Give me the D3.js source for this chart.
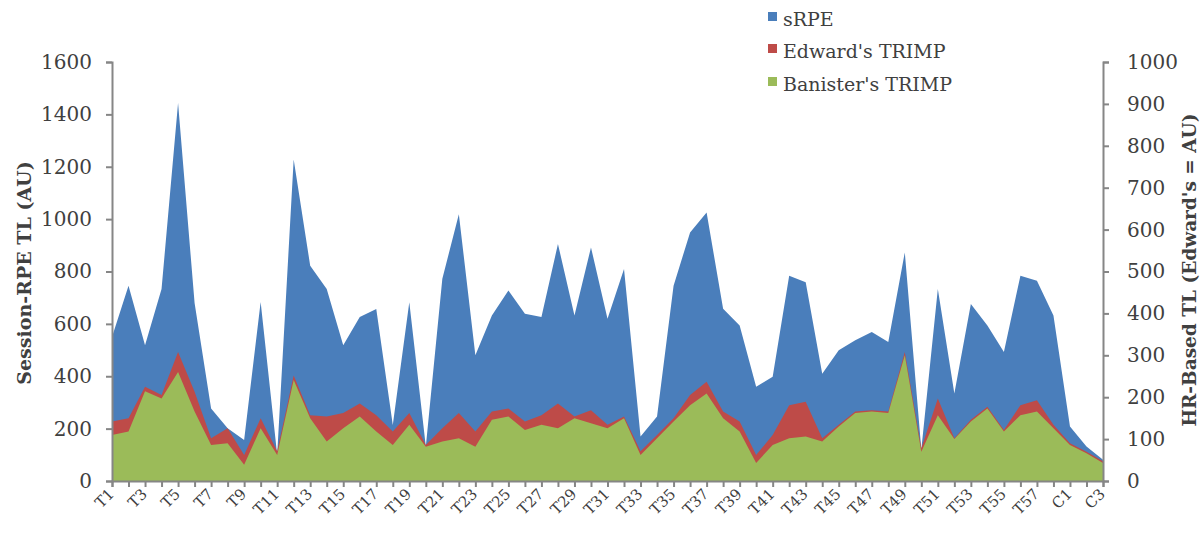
<!DOCTYPE html>
<html>
<head>
<meta charset="utf-8">
<script src="https://cdn.jsdelivr.net/npm/d3@7"></script>
<style>
  html, body { margin: 0; padding: 0; background: #fff; }
  svg { display: block; }
  text { font-family: "DejaVu Serif", "Liberation Serif", serif; fill: #404040; }
</style>
</head>
<body>
<svg id="chart" width="1204" height="543"></svg>
<script>
const categories = ["T1","T2","T3","T4","T5","T6","T7","T8","T9","T10",
  "T11","T12","T13","T14","T15","T16","T17","T18","T19","T20",
  "T21","T22","T23","T24","T25","T26","T27","T28","T29","T30",
  "T31","T32","T33","T34","T35","T36","T37","T38","T39","T40",
  "T41","T42","T43","T44","T45","T46","T47","T48","T49","T50",
  "T51","T52","T53","T54","T55","T56","T57","T58","C1","C2","C3"];

const sRPE = [550,746,518,733,1443,680,277,201,157,684,
  100,1228,822,733,518,626,657,214,683,132,
  772,1019,480,632,727,639,626,905,632,892,
  620,810,170,246,746,949,1025,658,594,360,
  398,784,759,410,499,537,569,531,873,120,
  733,334,676,594,493,784,765,632,208,132,81];

const edwards = [142,150,225,205,308,213,102,126,62,150,
  71,252,157,154,162,185,157,118,162,86,
  126,162,118,166,173,142,157,185,154,169,
  134,154,71,110,150,205,237,166,142,62,
  110,181,189,102,134,166,169,166,308,78,
  197,102,146,177,122,181,193,134,90,70,47];

const banisters = [110,118,214,197,260,166,86,90,39,126,
  62,241,150,94,126,154,118,86,134,82,
  94,102,82,146,154,122,134,126,150,138,
  126,150,62,102,142,181,209,150,118,43,
  86,102,106,94,130,162,166,162,300,70,
  157,100,142,173,118,157,166,126,86,66,43];

const leftTicks = [0,200,400,600,800,1000,1200,1400,1600];
const rightTicks = [0,100,200,300,400,500,600,700,800,900,1000];
const seriesNames = ["sRPE","Edward's TRIMP","Banister's TRIMP"];
const colors = ["#4a7ebb","#be4b48","#9bbb59"];

const svg = d3.select("#chart");
const L = 112, R = 1103, T = 62, B = 481;

const x = d3.scalePoint().domain(categories).range([L, R]);
const yL = d3.scaleLinear().domain([0,1600]).range([B, T]);
const yR = d3.scaleLinear().domain([0,1000]).range([B, T]);

const areaL = d3.area().x((d,i)=>x(categories[i])).y0(yL(0)).y1(d=>yL(d));
const areaR = d3.area().x((d,i)=>x(categories[i])).y0(yR(0)).y1(d=>yR(d));

svg.append("path").datum(sRPE).attr("d", areaL).attr("fill", colors[0]);
svg.append("path").datum(edwards).attr("d", areaR).attr("fill", colors[1]);
svg.append("path").datum(banisters).attr("d", areaR).attr("fill", colors[2]);

const axisColor = "#868686";
const fmt = d3.format("d");

const gl = svg.append("g").attr("transform", `translate(${L},0)`)
  .call(d3.axisLeft(yL).tickValues(leftTicks).tickFormat(fmt).tickSize(6).tickPadding(14));
const gr = svg.append("g").attr("transform", `translate(${R},0)`)
  .call(d3.axisRight(yR).tickValues(rightTicks).tickFormat(fmt).tickSize(6).tickPadding(18));
const gb = svg.append("g").attr("transform", `translate(0,${B})`)
  .call(d3.axisBottom(x).tickSize(6).tickFormat(""));

[gl, gr, gb].forEach(g => {
  g.selectAll("path.domain").attr("stroke", axisColor).attr("stroke-width", 2);
  g.selectAll(".tick line").attr("stroke", axisColor).attr("stroke-width", 2);
  g.selectAll("text").attr("fill", "#404040")
    .style("font-family", '"DejaVu Serif", serif');
});
gl.selectAll("text").style("font-size", "20px");
gr.selectAll("text").style("font-size", "20px");

// diagonal category labels (every other) laid along 45-degree guide paths
const defs = svg.append("defs");
const lblG = svg.append("g");
categories.forEach((c, i) => {
  if (i % 2 !== 0) return;
  const ax = x(c) + 3, ay = B + 14, len = 60, d = len / Math.SQRT2;
  defs.append("path").attr("id", "lp" + i)
    .attr("d", `M${ax - d},${ay + d} L${ax},${ay}`);
  lblG.append("text")
    .style("font-size", "15px")
    .attr("fill", "#404040")
    .append("textPath")
    .attr("href", "#lp" + i)
    .attr("startOffset", "100%")
    .attr("text-anchor", "end")
    .text(c);
});

// axis titles
svg.append("text")
  .attr("transform", `translate(31,${273}) rotate(-90)`)
  .attr("text-anchor", "middle")
  .style("font-size", "19px").style("font-weight", "bold")
  .text("Session-RPE TL (AU)");
svg.append("text")
  .attr("transform", `translate(1196,${270}) rotate(-90)`)
  .attr("text-anchor", "middle")
  .style("font-size", "18.5px").style("font-weight", "bold")
  .text("HR-Based TL (Edward's = AU)");

// legend
const lg = svg.append("g").attr("transform", "translate(768,0)");
const rows = [20, 52, 85];
seriesNames.forEach((n,i) => {
  lg.append("rect").attr("x", 0).attr("y", rows[i]-8).attr("width", 9).attr("height", 9)
    .attr("fill", colors[i]);
  lg.append("text").attr("x", 15).attr("y", rows[i]+6)
    .style("font-size", "19px").attr("fill", "#404040")
    .text(n);
});
</script>
</body>
</html>
